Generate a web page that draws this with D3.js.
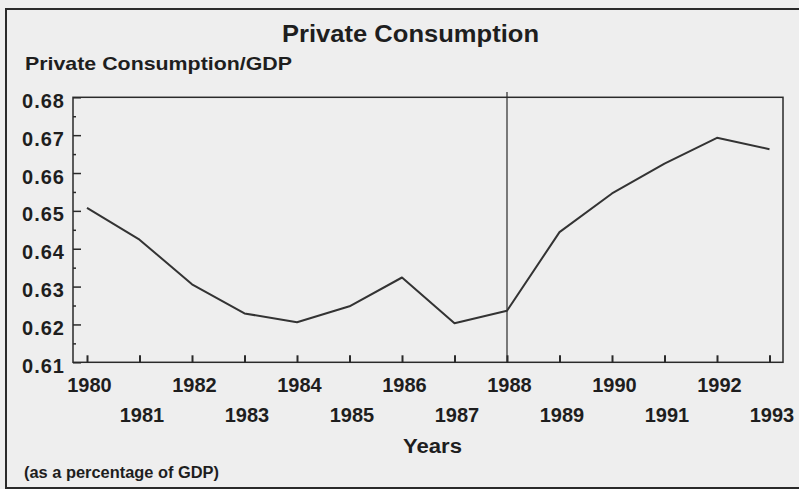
<!DOCTYPE html>
<html>
<head>
<meta charset="utf-8">
<script src="https://cdn.jsdelivr.net/npm/d3@7"></script>
<style>
  html, body { margin: 0; padding: 0; background: #eeeeee; }
  svg { display: block; }
  text { font-family: "Liberation Sans", Arial, Helvetica, sans-serif; font-weight: bold; fill: #1e1e1e; }
</style>
</head>
<body>
<script>
const years = [1980,1981,1982,1983,1984,1985,1986,1987,1988,1989,1990,1991,1992,1993];
const consumption = [0.6508,0.6424,0.6306,0.6229,0.6206,0.6248,0.6324,0.6203,0.6236,0.6444,0.6546,0.6625,0.6693,0.6663];
const yTicks = [0.61,0.62,0.63,0.64,0.65,0.66,0.67,0.68];
const yMinorTicks = [0.615,0.625,0.635,0.645,0.655,0.665,0.675];
const breakYear = 1988;
const titleText = "Private Consumption";
const yAxisTitle = "Private Consumption/GDP";
const xAxisTitle = "Years";
const noteText = "(as a percentage of GDP)";

const W = 799, H = 489;
const plot = {left: 73, right: 783, top: 97.3, bottom: 362.3};

const svg = d3.select("body").append("svg").attr("width", W).attr("height", H);
svg.append("rect").attr("width", W).attr("height", H).attr("fill", "#eeeeee");

// outer frame
svg.append("rect").attr("x", 6).attr("y", 9).attr("width", 820).attr("height", 479)
  .attr("fill", "none").attr("stroke", "#2a2a2a").attr("stroke-width", 2);

const x = d3.scaleLinear().domain([1980, 1993]).range([87, 769.5]);
const y = d3.scaleLinear().domain([0.61, 0.68]).range([plot.bottom, plot.top]);

const ink = "#2a2a2a";

// plot frame
svg.append("rect").attr("x", plot.left).attr("y", plot.top)
  .attr("width", plot.right - plot.left).attr("height", plot.bottom - plot.top)
  .attr("fill", "none").attr("stroke", ink).attr("stroke-width", 1.5);

// y axis ticks (inward)
const yAxis = d3.axisRight(y).tickValues(yTicks).tickSize(8).tickFormat("");
const gy = svg.append("g").attr("transform", `translate(${plot.left},0)`).call(yAxis);
gy.select(".domain").remove();
gy.selectAll("line").attr("stroke", ink).attr("stroke-width", 1.5);
const yMinor = d3.axisRight(y).tickValues(yMinorTicks).tickSize(3).tickFormat("");
const gym = svg.append("g").attr("transform", `translate(${plot.left},0)`).call(yMinor);
gym.select(".domain").remove();
gym.selectAll("line").attr("stroke", ink).attr("stroke-width", 1.5);

// y tick labels
svg.append("g").selectAll("text").data(yTicks).join("text")
  .attr("x", 65).attr("y", d => y(d) + 10.5)
  .attr("text-anchor", "end").attr("font-size", 20).attr("letter-spacing", 1)
  .text(d => d3.format(".2f")(d));

// x axis ticks (inward, upward)
const xAxis = d3.axisTop(x).tickValues(years).tickSize(7).tickFormat("");
const gx = svg.append("g").attr("transform", `translate(0,${plot.bottom})`).call(xAxis);
gx.select(".domain").remove();
gx.selectAll("line").attr("stroke", ink).attr("stroke-width", 2);

// x tick labels, staggered
svg.append("g").selectAll("text").data(years).join("text")
  .attr("x", d => x(d) + 2.5)
  .attr("y", (d, i) => i % 2 === 0 ? 391.5 : 421.5)
  .attr("text-anchor", "middle").attr("font-size", 20)
  .text(d => d);

// break line at 1988
svg.append("line")
  .attr("x1", x(breakYear)).attr("x2", x(breakYear))
  .attr("y1", 92).attr("y2", plot.bottom)
  .attr("stroke", ink).attr("stroke-width", 1.2);

// data line
const line = d3.line().x((d, i) => x(years[i])).y(d => y(d));
svg.append("path").datum(consumption).attr("d", line)
  .attr("fill", "none").attr("stroke", "#333").attr("stroke-width", 2)
  .attr("stroke-linejoin", "round");

// titles
svg.append("text").attr("x", 282).attr("y", 41.5).attr("font-size", 24)
  .attr("textLength", 257).attr("lengthAdjust", "spacingAndGlyphs").text(titleText);
svg.append("text").attr("x", 25).attr("y", 70).attr("font-size", 19)
  .attr("textLength", 267).attr("lengthAdjust", "spacingAndGlyphs").text(yAxisTitle);
svg.append("text").attr("x", 403).attr("y", 452.5).attr("font-size", 20)
  .attr("textLength", 59).attr("lengthAdjust", "spacingAndGlyphs").text(xAxisTitle);
svg.append("text").attr("x", 24).attr("y", 477.5).attr("font-size", 16)
  .attr("textLength", 195).attr("lengthAdjust", "spacingAndGlyphs").text(noteText);
</script>
</body>
</html>
